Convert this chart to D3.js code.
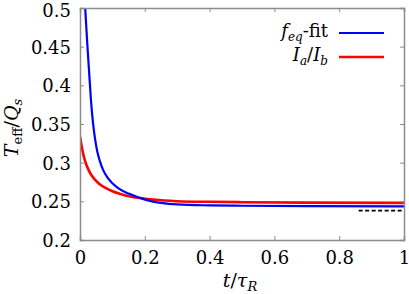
<!DOCTYPE html>
<html>
<head>
<meta charset="utf-8">
<script src="https://cdn.jsdelivr.net/npm/d3@7"></script>
<style>
  body { margin: 0; background: #fff; }
  svg text { font-family: "DejaVu Serif", "Liberation Serif", "Noto Serif", "Times New Roman", serif; fill: #000; }
</style>
</head>
<body>
<svg id="chart" width="409" height="294"></svg>
<script>
// values
const fitT   = [0.016, 0.022, 0.028, 0.034, 0.040, 0.046, 0.053, 0.062, 0.072, 0.085, 0.10, 0.12, 0.15, 0.185, 0.216, 0.25, 0.3, 0.4, 0.5, 0.7, 1.0];
const fitV   = [0.50, 0.457, 0.418, 0.380, 0.352, 0.332, 0.315, 0.301, 0.290, 0.2805, 0.2735, 0.2665, 0.2600, 0.2545, 0.2505, 0.2480, 0.2460, 0.2448, 0.2443, 0.2438, 0.2436];
const ratioT = [0, 0.004, 0.008, 0.013, 0.019, 0.026, 0.035, 0.046, 0.06, 0.08, 0.10, 0.125, 0.154, 0.185, 0.216, 0.26, 0.3, 0.4, 0.5, 0.7, 1.0];
const ratioV = [0.334, 0.324, 0.315, 0.306, 0.298, 0.291, 0.284, 0.278, 0.2725, 0.267, 0.263, 0.2595, 0.2563, 0.2542, 0.2525, 0.2510, 0.2502, 0.2494, 0.2489, 0.2483, 0.2480];
const refT   = [0.86, 1.0];
const refV   = [0.238, 0.238];
const xTicks = [0, 0.2, 0.4, 0.6, 0.8, 1];
const yTicks = [0.2, 0.25, 0.3, 0.35, 0.4, 0.45, 0.5];

const svg = d3.select("#chart");
const margin = { left: 80, right: 5, top: 8, bottom: 54 };
const W = 409, H = 294;

const x = d3.scaleLinear().domain([0, 1]).range([margin.left, W - margin.right]);
const y = d3.scaleLinear().domain([0.2, 0.5]).range([H - margin.bottom, margin.top]);

const toPts = (ts, vs) => ts.map((t, i) => [t, vs[i]]);

svg.append("clipPath").attr("id", "clip")
  .append("rect")
  .attr("x", x(0)).attr("y", y(0.5))
  .attr("width", x(1) - x(0)).attr("height", y(0.2) - y(0.5));

const line = d3.line().x(d => x(d[0])).y(d => y(d[1])).curve(d3.curveMonotoneX);

const plot = svg.append("g").attr("clip-path", "url(#clip)");

plot.append("path")
  .datum(toPts(refT, refV))
  .attr("d", line)
  .attr("fill", "none").attr("stroke", "#000")
  .attr("stroke-width", 1.8).attr("stroke-dasharray", "4,2.5");

plot.append("path")
  .datum(toPts(ratioT, ratioV))
  .attr("d", line)
  .attr("fill", "none").attr("stroke", "#ff0000").attr("stroke-width", 2.6);

plot.append("path")
  .datum(toPts(fitT, fitV))
  .attr("d", line)
  .attr("fill", "none").attr("stroke", "#0000ff").attr("stroke-width", 2.2);

// axes: inward ticks, mirrored on top and right
const frameColor = "#8c8c8c";
const gx = svg.append("g").attr("transform", `translate(0,${y(0.2)})`)
  .call(d3.axisBottom(x).tickValues(xTicks).tickSize(-4).tickPadding(8).tickFormat(d3.format("")));
const gxt = svg.append("g").attr("transform", `translate(0,${y(0.5)})`)
  .call(d3.axisTop(x).tickValues(xTicks).tickSize(-4).tickFormat(""));
const gy = svg.append("g").attr("transform", `translate(${x(0)},0)`)
  .call(d3.axisLeft(y).tickValues(yTicks).tickSize(-4).tickPadding(9).tickFormat(d3.format("")));
const gyr = svg.append("g").attr("transform", `translate(${x(1)},0)`)
  .call(d3.axisRight(y).tickValues(yTicks).tickSize(-4).tickFormat(""));

[gx, gxt, gy, gyr].forEach(g => {
  g.attr("font-family", null);
  g.selectAll(".domain").attr("stroke", frameColor).attr("stroke-width", 1.5);
  g.selectAll(".tick line").attr("stroke", frameColor).attr("stroke-width", 1);
  g.selectAll("text").attr("font-size", 18).attr("fill", "#000");
});
gx.selectAll(".tick text").attr("dy", "0.9em");
gy.selectAll(".tick text").attr("dy", d => d === 0.5 ? "0.45em" : "0.36em");

// axis titles
const xl = svg.append("text")
  .attr("x", 240).attr("y", 287)
  .attr("text-anchor", "middle").attr("font-size", 19);
xl.append("tspan").attr("font-style", "italic").text("t");
xl.append("tspan").text("/");
xl.append("tspan").attr("font-style", "italic").text("τ");
xl.append("tspan").attr("font-style", "italic").attr("font-size", 13).attr("dy", 4).text("R");

const yl = svg.append("text")
  .attr("transform", `translate(18,128) rotate(-90)`)
  .attr("text-anchor", "middle").attr("font-size", 19);
yl.append("tspan").attr("font-style", "italic").text("T");
yl.append("tspan").attr("font-size", 13).attr("dy", 4).text("eff");
yl.append("tspan").attr("dy", -4).text("/");
yl.append("tspan").attr("font-style", "italic").text("Q");
yl.append("tspan").attr("font-style", "italic").attr("font-size", 13).attr("dy", 4).text("s");

// legend
const legendItems = [
  { color: "#0000ff", width: 2.2, yPos: 33 },
  { color: "#ff0000", width: 2.6, yPos: 57 }
];
svg.selectAll(".leg-line").data(legendItems).enter().append("line")
  .attr("x1", 339).attr("x2", 384)
  .attr("y1", d => d.yPos).attr("y2", d => d.yPos)
  .attr("stroke", d => d.color).attr("stroke-width", d => d.width);

const l1 = svg.append("text").attr("x", 328).attr("y", 37)
  .attr("text-anchor", "end").attr("font-size", 18);
l1.append("tspan").attr("font-style", "italic").text("f");
l1.append("tspan").attr("font-style", "italic").attr("font-size", 12).attr("dy", 4).text("eq");
l1.append("tspan").attr("dy", -4).text("-fit");

const l2 = svg.append("text").attr("x", 328).attr("y", 61)
  .attr("text-anchor", "end").attr("font-size", 18);
l2.append("tspan").attr("font-style", "italic").text("I");
l2.append("tspan").attr("font-style", "italic").attr("font-size", 12).attr("dy", 4).text("a");
l2.append("tspan").attr("dy", -4).text("/");
l2.append("tspan").attr("font-style", "italic").text("I");
l2.append("tspan").attr("font-style", "italic").attr("font-size", 12).attr("dy", 4).text("b");
</script>
</body>
</html>
